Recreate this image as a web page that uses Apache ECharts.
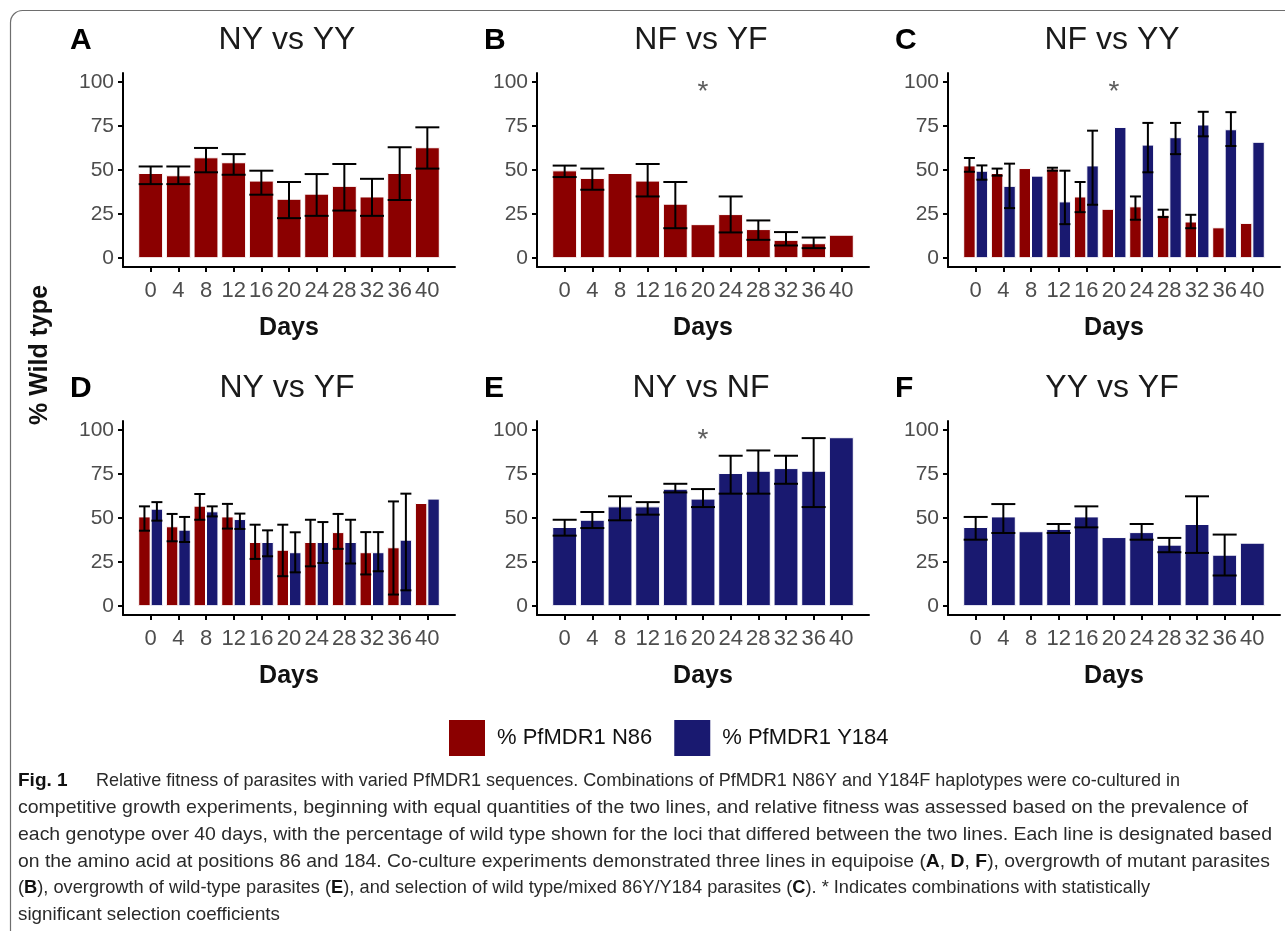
<!DOCTYPE html>
<html><head><meta charset="utf-8">
<script src="https://cdn.jsdelivr.net/npm/echarts@6/dist/echarts.min.js"></script>
<style>html,body{margin:0;padding:0;background:#fff}#c{width:1285px;height:931px}</style>
</head><body><div id="c"></div>
<script>
// ---------- data ----------
const days = [0, 4, 8, 12, 16, 20, 24, 28, 32, 36, 40];
const yTicks = [0, 25, 50, 75, 100];
const panelLetters = ['A', 'B', 'C', 'D', 'E', 'F'];
const panelTitles = ['NY vs YY', 'NF vs YF', 'NF vs YY', 'NY vs YF', 'NY vs NF', 'YY vs YF'];
const seriesNames = ['% PfMDR1 N86', '% PfMDR1 Y184'];

// A: NY vs YY
const aN86   = [48.3, 47.0, 57.2, 54.4, 44.0, 33.7, 36.6, 41.0, 35.0, 48.3, 62.9];
const aN86Lo = [42.0, 42.0, 48.7, 47.3, 36.0, 22.7, 24.0, 27.0, 24.0, 33.0, 50.8];
const aN86Hi = [52.0, 52.0, 62.5, 59.0, 49.6, 43.2, 47.7, 53.4, 45.0, 62.9, 74.2];
// B: NF vs YF
const bN86   = [49.8, 45.5, 48.3, 44.0, 30.9, 19.3, 25.0, 16.5, 10.4, 8.5, 13.3];
const bN86Lo = [46.0, 38.8, null, 35.0, 17.0, null, 14.6, 10.4, 7.2, 5.7, null];
const bN86Hi = [52.5, 50.8, null, 53.4, 43.2, null, 35.0, 21.4, 14.8, 11.7, null];
// C: NF vs YY
const cN86    = [52.6, 48.3, 51.1, 50.8, 35.0, 28.0, 29.4, 24.6, 20.8, 17.5, 20.0];
const cN86Lo  = [49.0, 46.8, null, 49.6, 26.1, null, 21.8, 23.3, 17.0, null, null];
const cN86Hi  = [56.8, 50.8, null, 51.3, 43.2, null, 35.0, 27.5, 24.6, null, null];
const cY184   = [49.6, 41.0, 46.8, 32.2, 52.6, 74.4, 64.4, 68.6, 75.8, 73.1, 66.0];
const cY184Lo = [44.5, 28.4, null, 19.3, 30.3, null, 48.7, 59.0, 69.1, 63.6, null];
const cY184Hi = [52.6, 53.6, null, 49.6, 72.3, null, 76.7, 76.7, 83.0, 82.8, null];
// D: NY vs YF
const dN86    = [50.9, 45.3, 57.0, 50.9, 36.4, 32.0, 36.4, 42.0, 30.6, 33.4, 58.5];
const dN86Lo  = [42.8, 36.8, 49.0, 44.0, 26.8, 17.0, 22.6, 32.5, 18.0, 6.6, null];
const dN86Hi  = [56.6, 52.3, 63.6, 58.0, 46.2, 46.2, 49.0, 52.3, 42.0, 59.4, null];
const dY184   = [55.3, 43.4, 53.8, 49.4, 36.4, 30.6, 36.4, 36.4, 30.6, 37.7, 61.0];
const dY184Lo = [48.5, 36.4, 50.9, 43.8, 28.3, 19.2, 24.5, 24.2, 19.8, 9.0, null];
const dY184Hi = [59.0, 50.6, 56.6, 52.5, 43.0, 41.9, 47.7, 49.0, 42.0, 63.8, null];
// E: NY vs NF
const eY184   = [44.9, 49.0, 56.6, 56.6, 66.6, 61.0, 75.5, 76.8, 78.3, 76.8, 95.8];
const eY184Lo = [40.0, 44.3, 48.7, 51.9, 64.5, 56.2, 63.8, 63.8, 69.4, 56.2, null];
const eY184Hi = [49.0, 53.4, 62.3, 59.0, 69.4, 66.4, 85.3, 88.3, 85.3, 95.3, null];
// F: YY vs YF
const fY184   = [44.9, 50.9, 42.5, 43.8, 50.9, 39.2, 42.0, 34.9, 46.6, 29.2, 36.0];
const fY184Lo = [37.7, 41.5, null, 41.5, 44.7, null, 37.7, 30.6, 30.2, 17.4, null];
const fY184Hi = [50.6, 57.9, null, 46.6, 56.6, null, 46.6, 38.7, 62.3, 40.6, null];

// significance markers
const starPanels = [1, 2, 4];
const starDay = 20;
const starValue = 94;

const captionLines = [
  'Relative fitness of parasites with varied PfMDR1 sequences. Combinations of PfMDR1 N86Y and Y184F haplotypes were co-cultured in',
  'competitive growth experiments, beginning with equal quantities of the two lines, and relative fitness was assessed based on the prevalence of',
  'each genotype over 40 days, with the percentage of wild type shown for the loci that differed between the two lines. Each line is designated based',
  'on the amino acid at positions 86 and 184. Co-culture experiments demonstrated three lines in equipoise ({b|A}, {b|D}, {b|F}), overgrowth of mutant parasites',
  '({b|B}), overgrowth of wild-type parasites ({b|E}), and selection of wild type/mixed 86Y/Y184 parasites ({b|C}). * Indicates combinations with statistically',
  'significant selection coefficients'
];

// ---------- layout / style ----------
const FONT = '"Liberation Sans", Arial, Helvetica, sans-serif';
const RED = '#8B0000', BLUE = '#191970';
const gridLefts = [123, 537, 948];
const gridTops = [73, 421];
const GW = 332, GH = 194;
const pxPerDay = GW / 48;
const singleW = 3.6 * pxPerDay;
const dodgeW = 1.8 * pxPerDay;

const panels = [
  [{ s: 0, v: aN86, lo: aN86Lo, hi: aN86Hi }],
  [{ s: 0, v: bN86, lo: bN86Lo, hi: bN86Hi }],
  [{ s: 0, v: cN86, lo: cN86Lo, hi: cN86Hi }, { s: 1, v: cY184, lo: cY184Lo, hi: cY184Hi }],
  [{ s: 0, v: dN86, lo: dN86Lo, hi: dN86Hi }, { s: 1, v: dY184, lo: dY184Lo, hi: dY184Hi }],
  [{ s: 1, v: eY184, lo: eY184Lo, hi: eY184Hi }],
  [{ s: 1, v: fY184, lo: fY184Lo, hi: fY184Hi }]
];

const grids = [], xAxes = [], yAxes = [], series = [], titles = [];

function errRender(offset, capW) {
  return function (params, api) {
    const x = api.value(0), lo = api.value(1), hi = api.value(2);
    const pLo = api.coord([x, lo]);
    const pHi = api.coord([x, hi]);
    const cx = pLo[0] + offset, hw = capW / 2;
    const st = { stroke: '#000', lineWidth: 2 };
    return {
      type: 'group', children: [
        { type: 'line', shape: { x1: cx, y1: pHi[1], x2: cx, y2: pLo[1] }, style: st },
        { type: 'line', shape: { x1: cx - hw, y1: pHi[1], x2: cx + hw, y2: pHi[1] }, style: st },
        { type: 'line', shape: { x1: cx - hw, y1: pLo[1], x2: cx + hw, y2: pLo[1] }, style: st }
      ]
    };
  };
}

panels.forEach((bars, p) => {
  const col = p % 3, row = Math.floor(p / 3);
  const left = gridLefts[col], top = gridTops[row];
  grids.push({ left: left, top: top, width: GW, height: GH, containLabel: false });
  xAxes.push({
    gridIndex: p, type: 'value', min: -4, max: 44,
    axisLine: { show: true, onZero: false, lineStyle: { color: '#000', width: 2 } },
    axisTick: { show: true, customValues: days, length: 5, lineStyle: { color: '#000', width: 2 } },
    axisLabel: { customValues: days, fontSize: 22, color: '#4d4d4d', margin: 13, fontFamily: FONT },
    splitLine: { show: false },
    name: 'Days', nameLocation: 'middle', nameGap: 49,
    nameTextStyle: { fontSize: 25, fontWeight: 'bold', color: '#111', fontFamily: FONT }
  });
  yAxes.push({
    gridIndex: p, type: 'value', min: -5, max: 105,
    axisLine: { show: true, onZero: false, lineStyle: { color: '#000', width: 2 } },
    axisTick: { show: true, customValues: yTicks, length: 5, lineStyle: { color: '#000', width: 2 } },
    axisLabel: { customValues: yTicks, fontSize: 21, color: '#4d4d4d', margin: 9, fontFamily: FONT },
    splitLine: { show: false }
  });
  const dodge = bars.length > 1;
  const bw = dodge ? dodgeW : singleW;
  bars.forEach((b, k) => {
    series.push({
      type: 'bar', name: seriesNames[b.s], xAxisIndex: p, yAxisIndex: p,
      data: days.map((d, i) => [d, b.v[i]]),
      barWidth: bw, barGap: '0%',
      itemStyle: { color: b.s === 0 ? RED : BLUE, borderColor: '#ffffff', borderWidth: 1 },
      emphasis: { disabled: true }, silent: true
    });
  });
  bars.forEach((b, k) => {
    const offset = dodge ? (k === 0 ? -bw / 2 : bw / 2) : 0;
    const capW = dodge ? 11 : 24;
    series.push({
      type: 'custom', xAxisIndex: p, yAxisIndex: p, z: 10, silent: true,
      data: days.map((d, i) => b.lo[i] == null ? null : [d, b.lo[i], b.hi[i]]).filter(Boolean),
      encode: { x: 0, y: [1, 2] },
      renderItem: errRender(offset, capW)
    });
  });
  if (starPanels.indexOf(p) >= 0) {
    series.push({
      type: 'scatter', xAxisIndex: p, yAxisIndex: p, silent: true, z: 12,
      data: [[starDay, starValue]], symbolSize: 1, itemStyle: { color: 'rgba(0,0,0,0)' },
      label: { show: true, formatter: '*', position: 'inside', fontSize: 28, color: '#333', fontFamily: FONT }
    });
  }
  titles.push({
    text: panelLetters[p], left: left - 53, top: top - 47, padding: 0,
    textStyle: { fontSize: 30, fontWeight: 'bold', color: '#000', fontFamily: FONT }
  });
  titles.push({
    text: panelTitles[p], left: left + GW / 2 - 2, textAlign: 'center', top: top - 49, padding: 0,
    textStyle: { fontSize: 32, fontWeight: 'normal', color: '#1a1a1a', fontFamily: FONT }
  });
});

// caption
const CAP_FONT = '"Liberation Sans Narrow", "Liberation Sans", Arial, sans-serif';
const CAP_SIZE = 19;
const capStarts = [96, 18, 18, 18, 18, 18];
const capEnds = [1180, 1248, 1272, 1270, 1150, 280];
const capY0 = 781, capDY = 26.8;
const mctx = document.createElement('canvas').getContext('2d');
function measureRich(str) {
  let w = 0, last = 0;
  const re = /\{b\|([^}]*)\}/g; let m;
  while ((m = re.exec(str))) {
    mctx.font = CAP_SIZE + 'px ' + CAP_FONT;
    w += mctx.measureText(str.slice(last, m.index)).width;
    mctx.font = 'bold ' + CAP_SIZE + 'px ' + CAP_FONT;
    w += mctx.measureText(m[1]).width;
    last = re.lastIndex;
  }
  mctx.font = CAP_SIZE + 'px ' + CAP_FONT;
  w += mctx.measureText(str.slice(last)).width;
  return w;
}
const graphics = [
  { type: 'rect', shape: { x: 10.5, y: 10.5, width: 1400, height: 1000, r: 12 }, style: { fill: 'none', stroke: '#6e6e6e', lineWidth: 1.2 }, silent: true },
  { type: 'text', x: 40, y: 355, rotation: Math.PI / 2, silent: true,
    style: { text: '% Wild type', font: 'bold 25px ' + FONT, fill: '#111', align: 'center', verticalAlign: 'middle' } },
  { type: 'text', x: 18, y: capY0, silent: true,
    style: { text: 'Fig. 1', font: 'bold ' + CAP_SIZE + 'px ' + CAP_FONT, fill: '#111', align: 'left', verticalAlign: 'middle' } }
];
captionLines.forEach((line, i) => {
  const nat = measureRich(line);
  const sx = (capEnds[i] - capStarts[i]) / nat;
  graphics.push({
    type: 'text', x: capStarts[i], y: capY0 + i * capDY, scaleX: sx, originX: 0, silent: true,
    style: {
      text: line, font: CAP_SIZE + 'px ' + CAP_FONT, fill: '#2a2a2a', align: 'left', verticalAlign: 'middle',
      rich: { b: { fontWeight: 'bold', fontSize: CAP_SIZE, fontFamily: CAP_FONT, fill: '#111' } }
    }
  });
});

const chart = echarts.init(document.getElementById('c'), null, { renderer: 'canvas' });
chart.setOption({
  animation: false,
  backgroundColor: '#ffffff',
  textStyle: { fontFamily: FONT },
  title: titles,
  legend: {
    data: seriesNames, left: 447, top: 718, padding: 0, itemWidth: 38, itemHeight: 38, itemGap: 20,
    icon: 'rect', selectedMode: false,
    textStyle: { fontSize: 22, color: '#111', fontFamily: FONT, padding: [0, 0, 0, 6] }
  },
  grid: grids, xAxis: xAxes, yAxis: yAxes, series: series,
  graphic: graphics
});
</script></body></html>
